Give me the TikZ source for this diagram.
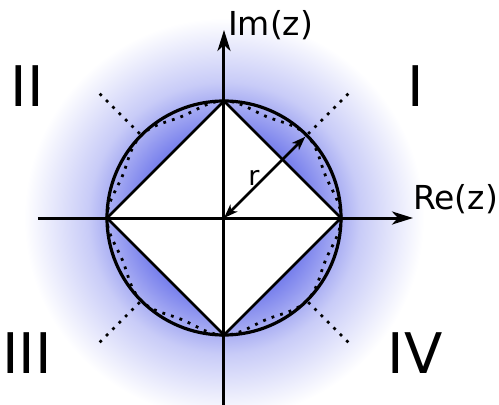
\documentclass[tikz,border=0pt]{standalone}
\usepackage{fontspec}
\setmainfont{DejaVu Sans}
\usepackage{tikz}
\usetikzlibrary{arrows.meta}

\definecolor{glowblue}{RGB}{118,126,236}
\pgfdeclareradialshading{glow}{\pgfpoint{0bp}{0bp}}{%
  color(0bp)=(glowblue); color(10.4bp)=(glowblue); color(17bp)=(glowblue!40);
  color(25bp)=(white); color(50bp)=(white)}

\begin{document}
\begin{tikzpicture}[
    x=1pt, y=1pt,
    axis/.style={line width=3pt, -{Stealth[length=21pt, width=13pt, inset=6pt]}},
    edge/.style={line width=2.8pt, line join=miter},
    rim/.style={line width=3.2pt},
    dotline/.style={line width=2.8pt, dash pattern=on 2.8pt off 6.2pt},
    radius/.style={line width=2.6pt, {Stealth[length=14pt, width=10pt, inset=4pt]}-{Stealth[length=14pt, width=10pt, inset=4pt]}},
    quadrant/.style={font=\fontsize{56}{60}\selectfont, inner sep=0pt},
    axislabel/.style={font=\fontsize{33}{36}\selectfont, inner sep=0pt, anchor=base west}
]
\useasboundingbox (-224,-187) rectangle (275,218);

% Points
\coordinate (o) at (0,0);
\coordinate (east) at (0:117);
\coordinate (north) at (90:117);
\coordinate (west) at (180:117);
\coordinate (south) at (270:117);
\coordinate (xmin) at (-186,0);
\coordinate (xmax) at (189,0);
\coordinate (ymin) at (0,-190);
\coordinate (ymax) at (0,188);

% Glow
\shade[shading=glow] (o) circle (200);

% Square and circle
\draw[edge, fill=white] (east) -- (north) -- (west) -- (south) -- cycle;
\draw[rim] (o) circle (117);

% Dotted curve
\draw[dotline] plot[domain=0:360, samples=241, smooth]
    (\x:{117*(1-0.06*sin(4*\x)^2)});
\foreach \a in {45,135,225,315}
    \draw[dotline] (\a:119) -- (\a:178);

% Axes
\draw[axis] (xmin) -- (xmax);
\draw[axis] (ymin) -- (ymax);

% Radius
\coordinate (rim) at (45:115);
\draw[radius] (o) -- (rim);
\node[font=\fontsize{27}{30}\selectfont, inner sep=0pt] (rlabel) at (30,40) {r};

% Labels
\node[axislabel] (im) at (4,183) {Im(z)};
\node[axislabel] (re) at (189,9) {Re(z)};
\node[quadrant] (q1) at (191.5,132) {I};
\node[quadrant] (q2) at (-197,132) {II};
\node[quadrant] (q3) at (-197,-135.5) {III};
\node[quadrant] (q4) at (191,-135.5) {IV};

\end{tikzpicture}
\end{document}
